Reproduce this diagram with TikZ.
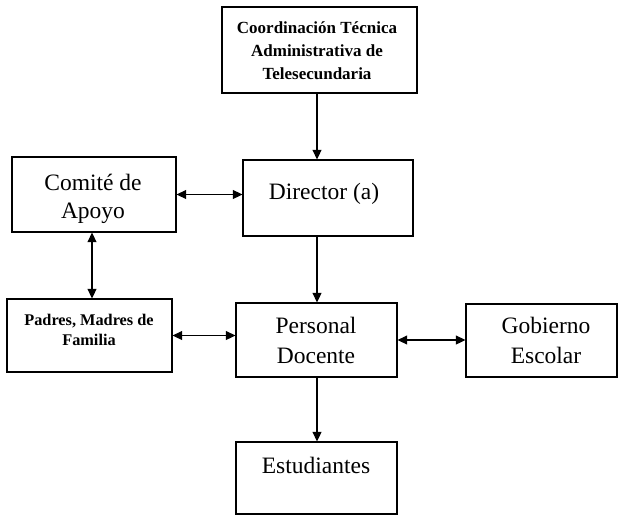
\documentclass[tikz,border=0pt]{standalone}
\usepackage{fontspec}
\setmainfont{Liberation Serif}
\usetikzlibrary{arrows.meta}
\tikzset{
  box/.style={draw=black, line width=1.3pt, rectangle, inner sep=0pt},
  lbl/.style={anchor=base, align=center, inner sep=0pt, text=black},
  conn/.style={line width=1.3pt, ->},
  bconn/.style={line width=1.3pt, <->},
}
\begin{document}
\begin{tikzpicture}[x=1pt,y=-1pt, >={Triangle[length=9.5pt,width=9pt]}]
\useasboundingbox (0,0) rectangle (620,516);
% boxes
\node[box, minimum width=195pt, minimum height=86pt] (coord) at (319.5,50) {};
\node[box, minimum width=170pt, minimum height=76pt] (dir) at (328,198) {};
\node[box, minimum width=164pt, minimum height=75pt] (com) at (94,194.5) {};
\node[box, minimum width=165pt, minimum height=73pt] (pad) at (89.5,335.5) {};
\node[box, minimum width=161pt, minimum height=74pt] (per) at (316.5,340) {};
\node[box, minimum width=151pt, minimum height=73pt] (gob) at (541.5,340.5) {};
\node[box, minimum width=161pt, minimum height=72pt] (est) at (316.5,478) {};
% texts
\node[lbl, font={\bfseries\fontsize{17}{23}\selectfont}] (tcoord) at (317,80) {Coordinación Técnica\\Administrativa de\\Telesecundaria};
\node[lbl, font={\fontsize{23.5}{29}\selectfont}] (tdir) at (324,199) {Director (a)};
\node[lbl, font={\fontsize{23.5}{28}\selectfont}] (tcom) at (93,218) {Comité de\\Apoyo};
\node[lbl, font={\bfseries\fontsize{16.3}{20}\selectfont}] (tpad) at (89,345) {Padres, Madres de\\Familia};
\node[lbl, font={\fontsize{23.5}{30}\selectfont}] (tper) at (316,363) {Personal\\Docente};
\node[lbl, font={\fontsize{23.5}{30}\selectfont}] (tgob) at (546,363) {Gobierno\\Escolar};
\node[lbl, font={\fontsize{23.5}{29}\selectfont}] (test) at (316,473) {Estudiantes};
% connector guides
\coordinate (cx) at (317,0);
\coordinate (lx) at (92,0);
% connectors
\draw[conn] (coord.south -| cx) -- (dir.north -| cx);
\draw[conn] (dir.south -| cx) -- (per.north -| cx);
\draw[conn] (per.south -| cx) -- (est.north -| cx);
\draw[bconn] (com.east) -- (com.east -| dir.west);
\draw[bconn] (com.south -| lx) -- (pad.north -| lx);
\draw[bconn] (pad.east) -- (pad.east -| per.west);
\draw[bconn] (per.east) -- (per.east -| gob.west);
\end{tikzpicture}
\end{document}
